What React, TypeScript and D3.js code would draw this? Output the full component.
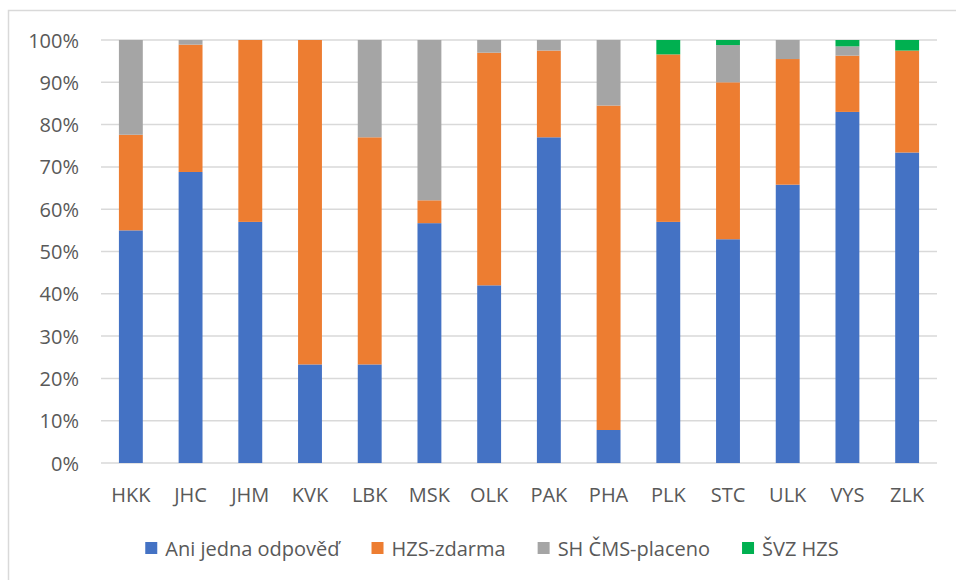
import React, { useLayoutEffect, useMemo, useRef, useState } from "react";
import * as d3 from "d3";

const width = 956;
const height = 580;
const margin = { top: 40, right: 19, bottom: 117, left: 101 };

const regions = ["HKK", "JHC", "JHM", "KVK", "LBK", "MSK", "OLK", "PAK", "PHA", "PLK", "STC", "ULK", "VYS", "ZLK"];
const seriesNames = ["Ani jedna odpověď", "HZS-zdarma", "SH ČMS-placeno", "ŠVZ HZS"];
const seriesColors = ["#4472C4", "#ED7D31", "#A5A5A5", "#00B050"];

// shares in %
const aniJedna = [55, 68.8, 57, 23.3, 23.3, 56.7, 42, 77, 7.8, 57, 52.9, 65.8, 83, 73.4];
const hzsZdarma = [22.6, 30.1, 43, 76.7, 53.7, 5.4, 55, 20.5, 76.7, 39.6, 37.1, 29.7, 13.3, 24.1];
const shCms = [22.4, 1.1, 0, 0, 23, 37.9, 3, 2.5, 15.5, 0, 8.8, 4.5, 2.2, 0];
const svzHzs = [0, 0, 0, 0, 0, 0, 0, 0, 0, 3.4, 1.2, 0, 1.5, 2.5];

const yTicks = [0, 0.1, 0.2, 0.3, 0.4, 0.5, 0.6, 0.7, 0.8, 0.9, 1];

const font = "'Open Sans', sans-serif";
const textColor = "#595959";
const fontSize = 20;

export default function App() {
  const boundsWidth = width - margin.left - margin.right;
  const boundsHeight = height - margin.top - margin.bottom;

  const rows = useMemo(
    () =>
      regions.map((r, i) => {
        const vals = [aniJedna[i], hzsZdarma[i], shCms[i], svzHzs[i]];
        const total = d3.sum(vals);
        const row: any = { region: r };
        seriesNames.forEach((s, j) => (row[s] = vals[j] / total));
        return row;
      }),
    []
  );

  const stacked = useMemo(() => d3.stack().keys(seriesNames)(rows), [rows]);

  const xScale = d3
    .scaleBand()
    .domain(regions)
    .range([0, boundsWidth])
    .paddingInner(0.6)
    .paddingOuter(0.3);

  const yScale = d3.scaleLinear().domain([0, 1]).range([boundsHeight, 0]);
  const pct = d3.format(".0%");

  // legend layout: measure text, then center
  const textRefs = useRef<(SVGTextElement | null)[]>([]);
  const [textWidths, setTextWidths] = useState<number[]>(seriesNames.map((s) => s.length * 10));
  useLayoutEffect(() => {
    const w = textRefs.current.map((t) => (t ? t.getComputedTextLength() : 0));
    setTextWidths(w);
  }, []);

  const box = 12;
  const boxGap = 8;
  const itemGap = 32;
  const legendCenter = 492;
  const itemWidths = textWidths.map((w) => box + boxGap + w);
  const legendTotal = d3.sum(itemWidths) + itemGap * (seriesNames.length - 1);
  let cursor = legendCenter - legendTotal / 2;
  const legendX = itemWidths.map((w) => {
    const x = cursor;
    cursor += w + itemGap;
    return x;
  });
  const legendY = 548;

  return (
    <svg
      width={width}
      height={height}
      style={{ position: "absolute", left: 0, top: 0, background: "#fff" }}
      fontFamily={font}
    >
      <rect x={8.5} y={10.5} width={width + 20} height={height + 20} fill="#fff" stroke="#d9d9d9" strokeWidth={1.5} />
      <g transform={`translate(${margin.left},${margin.top})`}>
        {/* gridlines */}
        {yTicks.map((t) => (
          <line
            key={t}
            x1={0}
            x2={boundsWidth}
            y1={yScale(t)}
            y2={yScale(t)}
            stroke="#d9d9d9"
            strokeWidth={1.5}
          />
        ))}
        {/* bars */}
        {stacked.map((layer, si) => (
          <g key={layer.key} fill={seriesColors[si]}>
            {layer.map((d, i) => {
              const h = yScale(d[0]) - yScale(d[1]);
              if (h <= 0) return null;
              return (
                <rect
                  key={i}
                  x={xScale(regions[i])}
                  y={yScale(d[1])}
                  width={xScale.bandwidth()}
                  height={h}
                />
              );
            })}
          </g>
        ))}
        {/* y labels */}
        {yTicks.map((t) => (
          <text
            key={t}
            x={-22}
            y={yScale(t)}
            textAnchor="end"
            dominantBaseline="central"
            fontSize={fontSize}
            fill={textColor}
          >
            {pct(t)}
          </text>
        ))}
        {/* x labels */}
        {regions.map((r) => (
          <text
            key={r}
            x={(xScale(r) ?? 0) + xScale.bandwidth() / 2}
            y={boundsHeight + 31}
            textAnchor="middle"
            dominantBaseline="central"
            fontSize={fontSize}
            fill={textColor}
          >
            {r}
          </text>
        ))}
      </g>
      {/* legend */}
      {seriesNames.map((s, i) => (
        <g key={s} transform={`translate(${legendX[i]},${legendY})`}>
          <rect x={0} y={-box / 2} width={box} height={box} fill={seriesColors[i]} />
          <text
            ref={(el) => {
              textRefs.current[i] = el;
            }}
            x={box + boxGap}
            y={0}
            dominantBaseline="central"
            fontSize={fontSize}
            fill={textColor}
          >
            {s}
          </text>
        </g>
      ))}
    </svg>
  );
}
